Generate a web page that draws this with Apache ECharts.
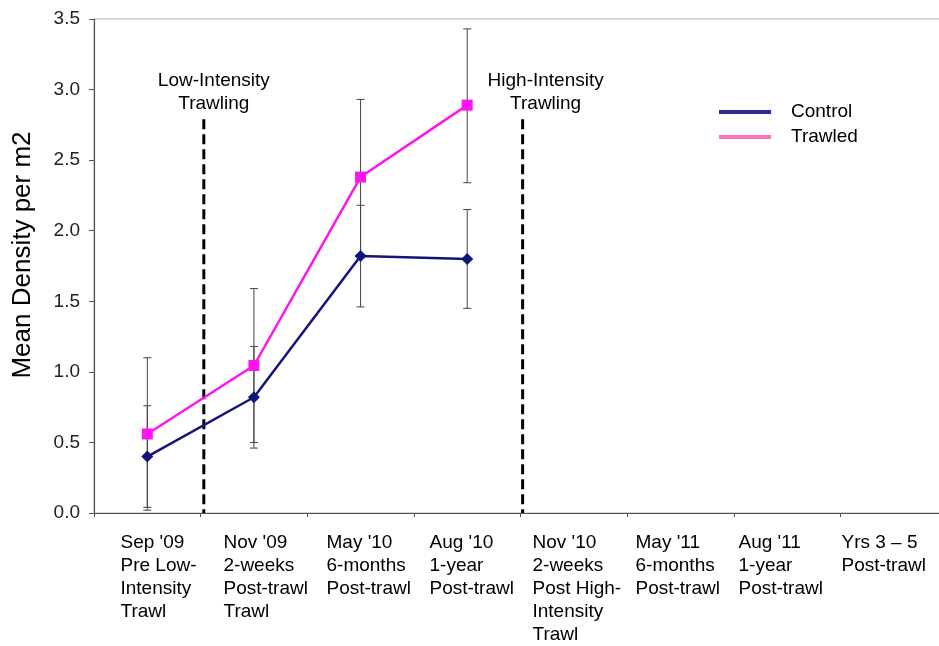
<!DOCTYPE html>
<html>
<head>
<meta charset="utf-8">
<script src="https://cdn.jsdelivr.net/npm/echarts@6/dist/echarts.min.js"></script>
<style>
  html, body { margin: 0; padding: 0; background: #fff; }
  #chart { width: 939px; height: 646px; }
</style>
</head>
<body>
<div id="chart"></div>
<script>
// Sampling periods along the x axis
const periods = [
  "Sep '09\nPre Low-\nIntensity\nTrawl",
  "Nov '09\n2-weeks\nPost-trawl\nTrawl",
  "May '10\n6-months\nPost-trawl",
  "Aug '10\n1-year\nPost-trawl",
  "Nov '10\n2-weeks\nPost High-\nIntensity\nTrawl",
  "May '11\n6-months\nPost-trawl",
  "Aug '11\n1-year\nPost-trawl",
  "Yrs 3 \u2013 5\nPost-trawl"
];
const yTicks = [0, 0.5, 1.0, 1.5, 2.0, 2.5, 3.0, 3.5];

// Mean density per m2 and error bar limits
const controlMean = [0.40, 0.82, 1.82, 1.80];
const controlLow  = [0.04, 0.46, 1.46, 1.45];
const controlHigh = [0.76, 1.18, 2.18, 2.15];
const trawledMean = [0.56, 1.045, 2.38, 2.89];
const trawledLow  = [0.02, 0.50, 1.83, 2.34];
const trawledHigh = [1.10, 1.59, 2.93, 3.43];

// Trawling events, drawn between sampling periods
const eventPos = [1.03, 4.02];
const eventTop = 2.79;
const eventText = ['Low-Intensity\nTrawling', 'High-Intensity\nTrawling'];
const eventShift = [10, 23];

const FONT = 'Liberation Sans, Arial, sans-serif';
const navy = '#14147c';
const magenta = '#ff14f0';

function errorSeries(name, low, high) {
  return {
    type: 'custom',
    name: name,
    xAxisIndex: 0,
    yAxisIndex: 0,
    z: 1,
    silent: true,
    data: low.map((l, i) => [i, l, high[i]]),
    renderItem: function (params, api) {
      const lo = api.coord([api.value(0), api.value(1)]);
      const hi = api.coord([api.value(0), api.value(2)]);
      const cap = 4;
      const style = { stroke: '#444', lineWidth: 1 };
      return {
        type: 'group',
        children: [
          { type: 'line', shape: { x1: lo[0], y1: lo[1], x2: hi[0], y2: hi[1] }, style: style },
          { type: 'line', shape: { x1: lo[0] - cap, y1: lo[1], x2: lo[0] + cap, y2: lo[1] }, style: style },
          { type: 'line', shape: { x1: hi[0] - cap, y1: hi[1], x2: hi[0] + cap, y2: hi[1] }, style: style }
        ]
      };
    }
  };
}

// Dashed event lines
const eventLines = eventPos.map(x => ({
  type: 'line',
  xAxisIndex: 1,
  yAxisIndex: 0,
  z: 2,
  silent: true,
  symbol: 'none',
  lineStyle: { color: '#000', width: 3, type: [10, 5] },
  data: [[x, eventTop], [x, 0]]
}));

// Event captions above the dashed lines
const eventLabels = {
  type: 'scatter',
  xAxisIndex: 1,
  yAxisIndex: 0,
  z: 3,
  silent: true,
  symbolSize: 0.1,
  itemStyle: { color: '#fff' },
  data: eventPos.map((x, i) => ({
    value: [x, eventTop],
    label: {
      show: true,
      position: 'top',
      distance: 4,
      offset: [eventShift[i], 0],
      formatter: eventText[i],
      fontFamily: FONT,
      fontSize: 19,
      lineHeight: 23,
      color: '#000',
      opacity: 1,
      textBorderWidth: 0,
      align: 'center'
    }
  }))
};

const chart = echarts.init(document.getElementById('chart'), null, { renderer: 'canvas' });

chart.setOption({
  animation: false,
  backgroundColor: '#fff',
  grid: [
    { left: 94, width: 853, top: 19, bottom: 133, show: true, borderColor: '#b0b0b0', borderWidth: 1, outerBoundsMode: 'none' },
    { left: 69, width: 824, top: 19, bottom: 133, show: false, outerBoundsMode: 'none' }
  ],
  legend: {
    orient: 'vertical',
    left: 714,
    top: 96,
    icon: 'rect',
    itemWidth: 52,
    itemHeight: 4,
    itemGap: 3,
    textStyle: { fontFamily: FONT, fontSize: 19, lineHeight: 22, color: '#000', padding: [0, 0, 0, 15] },
    data: [
      { name: 'Control', itemStyle: { color: '#2a2a98' } },
      { name: 'Trawled', itemStyle: { color: '#ff70c4' } }
    ]
  },
  xAxis: [
    {
      type: 'category',
      gridIndex: 0,
      data: periods,
      boundaryGap: true,
      axisLine: { show: true, lineStyle: { color: '#555', width: 1.2 } },
      axisTick: { show: true, length: 4, lineStyle: { color: '#555' } },
      axisLabel: { show: false },
      splitLine: { show: false }
    },
    {
      type: 'value',
      gridIndex: 0,
      min: 0,
      max: periods.length,
      show: false
    },
    {
      type: 'category',
      gridIndex: 1,
      data: periods,
      boundaryGap: true,
      axisLine: { show: false },
      axisTick: { show: false },
      splitLine: { show: false },
      axisLabel: {
        interval: 0,
        align: 'left',
        verticalAlign: 'top',
        margin: 18,
        fontFamily: FONT,
        fontSize: 19,
        lineHeight: 23,
        color: '#000'
      }
    }
  ],
  yAxis: [
    {
      type: 'value',
      gridIndex: 0,
      min: yTicks[0],
      max: yTicks[yTicks.length - 1],
      interval: 0.5,
      name: 'Mean Density per m2',
      nameLocation: 'middle',
      nameGap: 58,
      nameTextStyle: { fontFamily: FONT, fontSize: 26, color: '#000', padding: [0, 0, 0, 22] },
      axisLine: { show: true, lineStyle: { color: '#555', width: 1.2 } },
      axisTick: { show: true, inside: false, length: 5, lineStyle: { color: '#555' } },
      axisLabel: {
        margin: 14,
        fontFamily: FONT,
        fontSize: 19,
        color: '#222',
        formatter: v => v.toFixed(1)
      },
      splitLine: { show: false }
    },
    { type: 'value', gridIndex: 1, show: false }
  ],
  series: [
    errorSeries('Control error', controlLow, controlHigh),
    errorSeries('Trawled error', trawledLow, trawledHigh),
    ...eventLines,
    eventLabels,
    {
      name: 'Control',
      type: 'line',
      xAxisIndex: 0,
      yAxisIndex: 0,
      z: 4,
      data: controlMean,
      symbol: 'diamond',
      symbolSize: 12,
      color: navy,
      lineStyle: { color: navy, width: 2.5 },
      itemStyle: { color: navy }
    },
    {
      name: 'Trawled',
      type: 'line',
      xAxisIndex: 0,
      yAxisIndex: 0,
      z: 4,
      data: trawledMean,
      symbol: 'rect',
      symbolSize: 11,
      color: magenta,
      lineStyle: { color: magenta, width: 2.5 },
      itemStyle: { color: magenta }
    }
  ]
});
</script>
</body>
</html>
